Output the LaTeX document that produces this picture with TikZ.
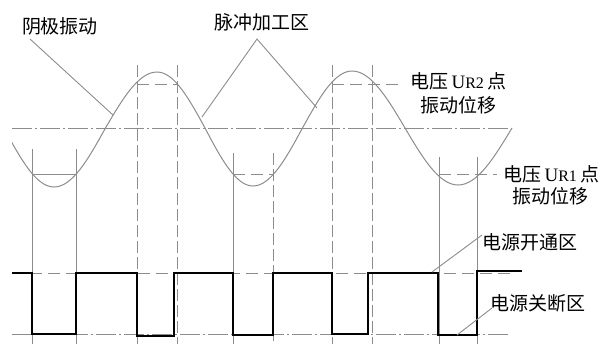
\documentclass[tikz,border=0pt]{standalone}
\usepackage{fontspec}
\setmainfont{Liberation Serif}
\newfontfamily\cjk{Noto Sans CJK SC}
\begin{document}
\begin{tikzpicture}[x=0.5pt,y=-0.5pt,
  thin gray/.style={draw=black!45,line width=0.5pt},
  vdash/.style={thin gray,dash pattern=on 6pt off 2pt},
  hdash/.style={thin gray,dash pattern=on 6pt off 3pt},
  center line/.style={thin gray,dash pattern=on 10pt off 1.5pt on 1pt off 1.5pt},
  leader/.style={draw=black!45,line width=0.45pt},
  wave/.style={draw=black!45,line width=0.5pt},
  square/.style={draw=black,line width=1.3pt},
  lab/.style={font=\cjk\fontsize{9.5pt}{11pt}\selectfont,inner sep=0pt,text=black}]
\useasboundingbox (0,0) rectangle (606,344);

% centre line and levels
\draw[center line] (12,128) -- (512,128);
\draw[hdash] (12,273) -- (510,273);
\draw[center line] (12,334) -- (510,334);

% vertical lines at troughs (U_R1)
\draw[thin gray] (32,149) -- (32,344);
\draw[thin gray] (76,149) -- (76,344);
\draw[thin gray] (233,153) -- (233,344);
\draw[vdash] (273,153) -- (273,344);
\draw[thin gray] (439,157) -- (439,344);
\draw[thin gray] (477,157) -- (477,344);
% vertical lines at peaks (U_R2)
\draw[vdash] (137,65) -- (137,344);
\draw[vdash] (177,65) -- (177,344);
\draw[vdash] (332,65) -- (332,344);
\draw[vdash] (372,65) -- (372,344);

% level lines
\draw[thin gray] (32,174) -- (76,174);
\draw[hdash] (233,174) -- (273,174);
\coordinate (r1end) at (497,174);
\draw[hdash] (439,174) -- (r1end);
\draw[hdash] (137,84) -- (177,84);
\coordinate (r2end) at (402,84);
\draw[hdash] (332,84) -- (r2end);

% cathode vibration wave
\begin{scope}
\clip (12,0) rectangle (606,344);
\draw[wave] (4,128) sin (54,187) cos (105.5,128) sin (157,72) cos (205,128)
  sin (253,186) cos (302.5,128) sin (352,71) cos (405,128) sin (458,185) cos (512,128);
\end{scope}

% pulse supply square wave
\draw[square] (12,273) -- (32,273) -- (32,334) -- (76,334) -- (76,273)
  -- (137,273) -- (137,336) -- (174,336) -- (174,273)
  -- (233,273) -- (233,335) -- (273,335) -- (273,273)
  -- (332,273) -- (332,334) -- (368,334) -- (368,273)
  -- (438,273) -- (438,335) -- (477,335) -- (477,271) -- (522,271);

% labels
\node[lab] (yj) at (60,26) {阴极振动};
\node[lab] (mc) at (262,22) {脉冲加工区};
\node[lab,anchor=west] (ur2) at (410,81) {电压\,{\rmfamily U{\footnotesize R2}}\,点};
\node[lab] (ur2b) at (458,105) {振动位移};
\node[lab,anchor=west] (ur1) at (503,174) {电压\,{\rmfamily U{\footnotesize R1}}\,点};
\node[lab] (ur1b) at (550,196) {振动位移};
\node[lab] (kt) at (530,242) {电源开通区};
\node[lab] (gd) at (538,303) {电源关断区};

% leaders
\coordinate (yjend) at (113,115);
\draw[leader] (30,39) -- (yjend);
\coordinate (mcapex) at (257,39);
\coordinate (mcl) at (202,117);
\coordinate (mcr) at (317,108);
\draw[leader] (mcl) -- (mcapex) -- (mcr);
\coordinate (ktend) at (432,272);
\draw[leader] (ktend) -- (482,235);
\coordinate (gdend) at (457,335);
\draw[leader] (gdend) -- (492,308);
\end{tikzpicture}
\end{document}
